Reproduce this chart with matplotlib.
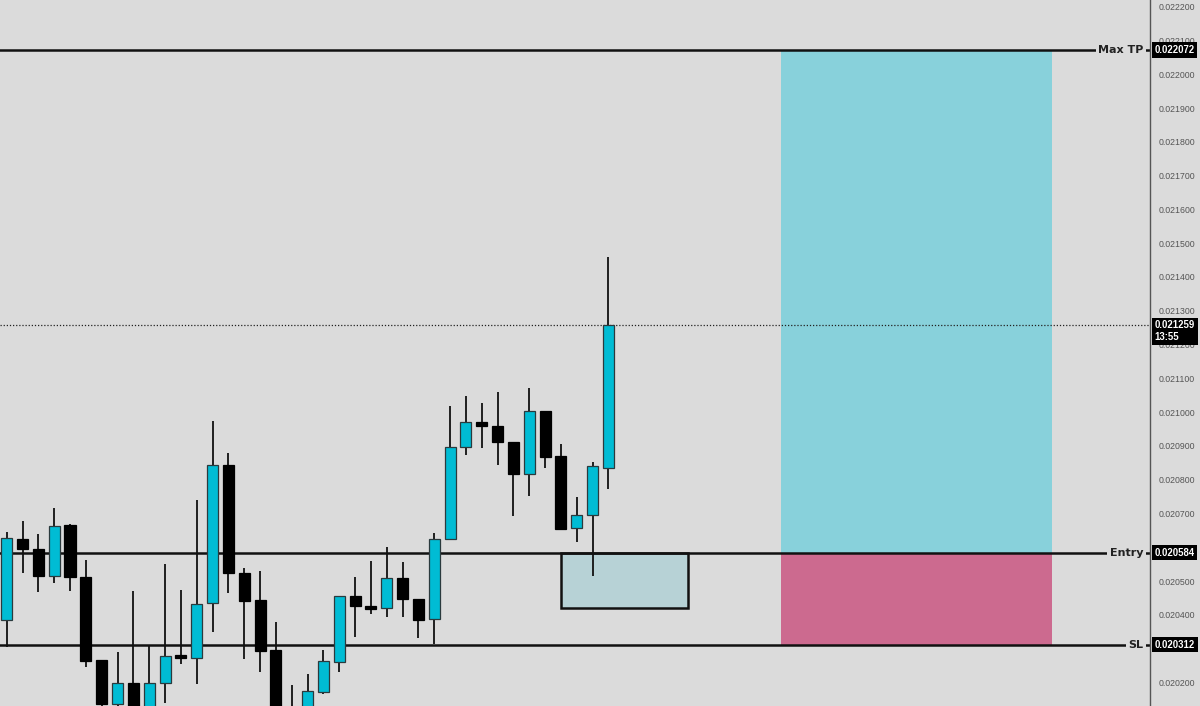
import matplotlib
matplotlib.use("Agg")
import matplotlib.pyplot as plt
import matplotlib.transforms as mtransforms
from matplotlib.patches import Rectangle
import numpy as np

# ---- data -------------------------------------------------------------
opens  = [0.020385, 0.020625, 0.020595, 0.020515, 0.020666, 0.020512, 0.020266, 0.020136,
          0.020198, 0.020119, 0.020198, 0.020281, 0.020272, 0.020435, 0.020844, 0.020524,
          0.020444, 0.020296, 0.020104, 0.020074, 0.020172, 0.020261, 0.020456, 0.020426,
          0.020420, 0.020509, 0.020447, 0.020388, 0.020625, 0.020897, 0.020971, 0.020959,
          0.020912, 0.020817, 0.021003, 0.020870, 0.020657, 0.020696, 0.020835]
highs  = [0.020645, 0.020678, 0.020639, 0.020716, 0.020669, 0.020562, 0.020266, 0.020290,
          0.020471, 0.020311, 0.020551, 0.020474, 0.020740, 0.020974, 0.020879, 0.020539,
          0.020530, 0.020379, 0.020193, 0.020225, 0.020296, 0.020456, 0.020512, 0.020559,
          0.020601, 0.020556, 0.020447, 0.020642, 0.021018, 0.021048, 0.021027, 0.021060,
          0.020912, 0.021071, 0.021003, 0.020906, 0.020749, 0.020852, 0.021459]
lows   = [0.020305, 0.020524, 0.020468, 0.020494, 0.020471, 0.020246, 0.020113, 0.020124,
          0.020101, 0.020107, 0.020139, 0.020255, 0.020195, 0.020349, 0.020465, 0.020269,
          0.020231, 0.020083, 0.020044, 0.020059, 0.020166, 0.020231, 0.020335, 0.020403,
          0.020394, 0.020394, 0.020332, 0.020314, 0.020622, 0.020873, 0.020894, 0.020844,
          0.020693, 0.020752, 0.020835, 0.020651, 0.020616, 0.020515, 0.020773]
closes = [0.020628, 0.020595, 0.020515, 0.020663, 0.020512, 0.020264, 0.020136, 0.020198,
          0.020113, 0.020198, 0.020278, 0.020272, 0.020432, 0.020844, 0.020524, 0.020441,
          0.020293, 0.020104, 0.020065, 0.020175, 0.020264, 0.020456, 0.020426, 0.020417,
          0.020509, 0.020447, 0.020385, 0.020625, 0.020897, 0.020971, 0.020959, 0.020912,
          0.020817, 0.021003, 0.020867, 0.020654, 0.020696, 0.020841, 0.021259]

max_tp = 0.022072
entry = 0.020584
stop_loss = 0.020312
current_price = 0.021259
current_time = "13:55"

zone_x = [35, 43]
zone_y = [0.020420, 0.020584]
position_x = [48.9, 66.0]

tick_values = [0.0202 + 0.0001 * k for k in range(21)]

# ---- style ------------------------------------------------------------
BG = "#dbdbdb"
UP = "#00bcd4"
DOWN = "#000000"
AXFONT = ["Liberation Sans", "DejaVu Sans"]

fig = plt.figure(figsize=(12, 7.06), dpi=100, facecolor=BG)
ax = fig.add_axes([0, 0, 1150 / 1200, 1])
ax.set_facecolor(BG)

x = np.arange(len(opens))
o = np.array(opens); h = np.array(highs); l = np.array(lows); c = np.array(closes)
up = c >= o
colors = np.where(up, UP, DOWN)

# position tool
ax.add_patch(Rectangle((position_x[0], entry), position_x[1] - position_x[0], max_tp - entry,
                       facecolor="#88d1db", edgecolor="none", zorder=1))
ax.add_patch(Rectangle((position_x[0], stop_loss), position_x[1] - position_x[0], entry - stop_loss,
                       facecolor="#cc6a8f", edgecolor="none", zorder=1))

# zone box
ax.add_patch(Rectangle((zone_x[0], zone_y[0]), zone_x[1] - zone_x[0], zone_y[1] - zone_y[0],
                       facecolor="#b7d2d6", edgecolor="#111111", linewidth=1.8, zorder=1.5))

# level lines
for lvl in (max_tp, entry, stop_loss):
    ax.axhline(lvl, color="#111111", linewidth=1.8, zorder=2)
ax.axhline(current_price, color="#222222", linewidth=0.9, linestyle=(0, (1, 1.5)), zorder=2)

# candles
ax.vlines(x, l, h, colors="#111111", linewidth=1.3, zorder=3)
body_bottom = np.minimum(o, c)
body_h = np.maximum(np.abs(c - o), 0.0000025)
ax.bar(x, body_h, bottom=body_bottom, width=0.7, color=colors,
       edgecolor=np.where(up, "#2b3a3d", "#000000"), linewidth=0.9, zorder=4)

ax.set_xlim(-0.423, 72.2)
ax.set_ylim(0.0201303, 0.0222197)

# right price axis
ax.yaxis.tick_right()
ax.set_yticks(tick_values)
ax.set_yticklabels([f"{v:.6f}" for v in tick_values], family=AXFONT)
ax.tick_params(axis="y", length=0, pad=6, labelsize=6.3, labelcolor="#555555")
ax.set_xticks([])
for s in ("top", "bottom", "left"):
    ax.spines[s].set_visible(False)
ax.spines["right"].set_color("#555555")
ax.spines["right"].set_linewidth(1.0)

trans = mtransforms.blended_transform_factory(ax.transAxes, ax.transData)

# line labels (text masks the line)
for lvl, name in ((max_tp, "Max TP"), (entry, "Entry"), (stop_loss, "SL")):
    ax.text(0.9945, lvl, name, transform=trans, ha="right", va="center",
            fontsize=8, fontweight="bold", color="#222222", zorder=5,
            bbox=dict(boxstyle="square,pad=0.25", facecolor=BG, edgecolor="none"))

# axis price boxes
for lvl in (max_tp, entry, stop_loss):
    ax.text(1.0040, lvl, f"{lvl:.6f}", transform=trans, ha="left", va="center",
            fontsize=6.9, fontweight="bold", color="white", zorder=6, clip_on=False,
            family=AXFONT,
            bbox=dict(boxstyle="square,pad=0.28", facecolor="black", edgecolor="none"))
ax.text(1.0040, current_price + 0.0000125, f"{current_price:.6f}\n{current_time}", transform=trans,
        ha="left", va="top", fontsize=6.9, fontweight="bold", color="white", zorder=6,
        clip_on=False, linespacing=1.2, family=AXFONT,
        bbox=dict(boxstyle="square,pad=0.28", facecolor="black", edgecolor="none"))

fig.savefig("out.png", dpi=100, facecolor=BG)
